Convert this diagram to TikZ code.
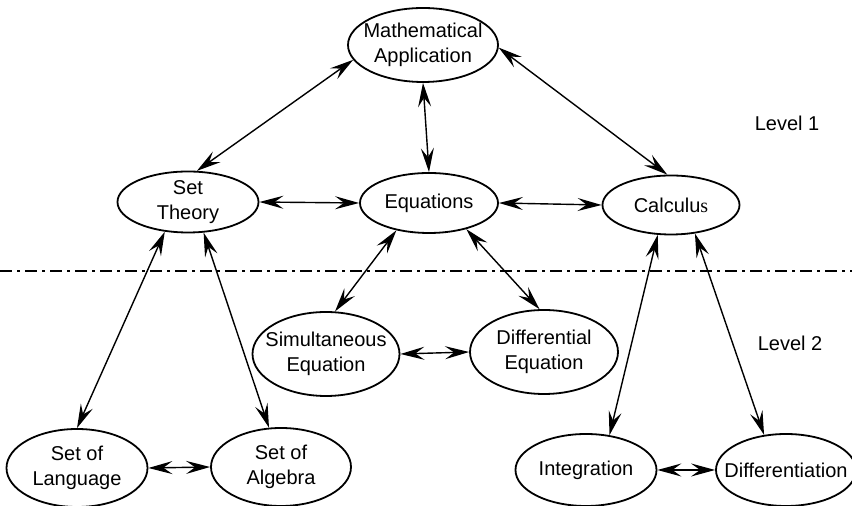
\documentclass[tikz,border=0pt]{standalone}
\usepackage{fontspec}
\setmainfont{Liberation Sans}
\newfontfamily\serifface{Liberation Serif}
\usetikzlibrary{arrows.meta,shapes.geometric}

\begin{document}
\begin{tikzpicture}[
    x=0.5pt, y=-0.5pt,
    concept/.style={ellipse, draw, line width=0.9pt, inner xsep=-8pt, inner ysep=-4pt, align=center, font=\fontsize{10}{12.5}\selectfont},
    link/.style={<->, >={Stealth[length=12pt,width=6.5pt,inset=4.5pt]}, line width=0.7pt},
    levelsep/.style={line width=0.65pt, dash pattern=on 6pt off 2.5pt on 1.5pt off 2.5pt},
    level/.style={font=\fontsize{10}{12.5}\selectfont}
]
\useasboundingbox (0,0) rectangle (852,506);

% Nodes
\node[concept, minimum width=75pt, minimum height=37pt] (mathapp) at (423,45) {Mathematical\\Application};
\node[concept, minimum width=70.5pt, minimum height=30.5pt] (settheory) at (188,202) {Set\\Theory};
\node[concept, minimum width=69pt, minimum height=30pt] (equations) at (429,203) {Equations};
\node[concept, minimum width=68.5pt, minimum height=29.5pt] (calculus) at (671,205) {Calculu{\serifface s}};
\node[concept, minimum width=73.5pt, minimum height=42pt] (simeq) at (326,354) {Simultaneous\\Equation};
\node[concept, minimum width=74pt, minimum height=42pt] (diffeq) at (544,352) {Differential\\Equation};
\node[concept, minimum width=70.5pt, minimum height=39pt] (setlang) at (77,468) {Set of\\Language};
\node[concept, minimum width=70pt, minimum height=39pt] (setalg) at (281,467) {Set of\\Algebra};
\node[concept, minimum width=70.5pt, minimum height=36pt] (integration) at (586,470) {Integration};
\node[concept, minimum width=70pt, minimum height=36pt] (differentiation) at (786,470) {Differentiation};

% Levels
\node[level] (level1) at (787,123) {Level 1};
\node[level] (level2) at (790,343) {Level 2};
\draw[levelsep] (0,271) -- (852,271);

% Edges (level 1)
\draw[link] (mathapp.192) -- (settheory.74);
\draw[link] (mathapp.358) -- (calculus.97);
\draw[link] (mathapp.south) -- (equations.north);
\draw[link] (settheory.east) -- (equations.west);
\draw[link] (equations.east) -- (calculus.west);

% Edges (level 2)
\draw[link] (equations.220) -- (simeq.78);
\draw[link] (equations.325) -- (diffeq.96);
\draw[link] (simeq.east) -- (diffeq.west);

\draw[link] (settheory.232) -- (setlang.north);
\draw[link] (settheory.297) -- (setalg.107);
\draw[link] (setlang.east) -- (setalg.west);

\draw[link] (calculus.246) -- (integration.56);
\draw[link] (calculus.310) -- (differentiation.122);
\draw[link] (integration.east) -- (differentiation.west);

\end{tikzpicture}
\end{document}
